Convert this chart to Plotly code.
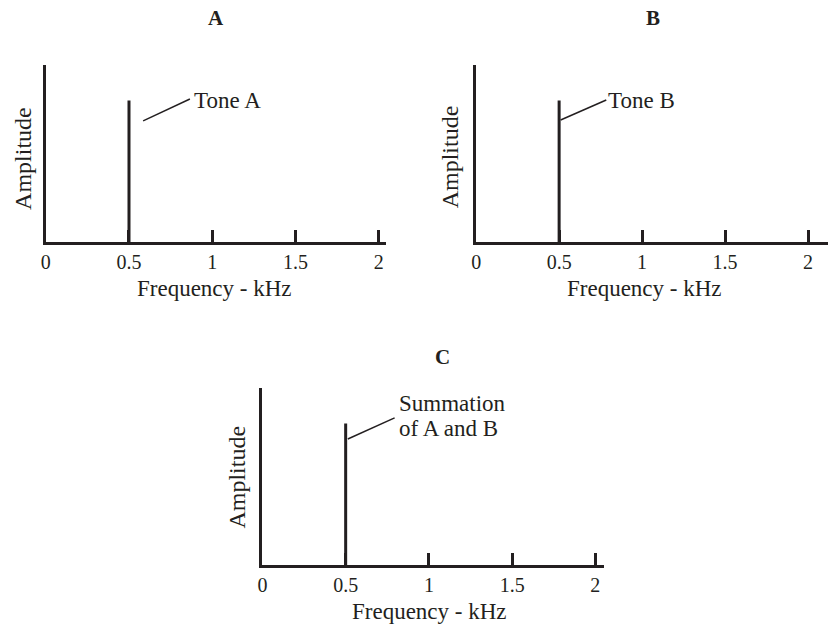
import plotly.graph_objects as go

# ---- data ----
panel_titles = ["A", "B", "C"]
tick_values = [0, 0.5, 1, 1.5, 2]
tick_labels = ["0", "0.5", "1", "1.5", "2"]
x_title = "Frequency - kHz"
y_title = "Amplitude"

tone_a_freq = [0.5]
tone_a_amp = [0.8]
tone_b_freq = [0.5]
tone_b_amp = [0.8]
sum_freq = [0.5]
sum_amp = [0.8]

labels = [["Tone A"], ["Tone B"], ["Summation", "of A and B"]]

INK = "#231f20"
FONT = "Liberation Serif"
W, H = 828, 624

def px(x):
    return x / W

def py(y):
    return 1 - y / H

fig = go.Figure()

series = [(tone_a_freq, tone_a_amp), (tone_b_freq, tone_b_amp), (sum_freq, sum_amp)]
axis_ids = ["", "2", "3"]
for (f, a), k in zip(series, axis_ids):
    xs, ys = [], []
    for fi, ai in zip(f, a):
        xs += [fi, fi, None]
        ys += [0, ai, None]
    fig.add_trace(go.Scatter(x=xs, y=ys, mode="lines",
                             line=dict(color=INK, width=3),
                             xaxis="x" + k, yaxis="y" + k,
                             showlegend=False, hoverinfo="skip"))

# panel geometry (pixels): x0, x_end, y_top, y_bottom, range_end
geom = [
    (41, 383, 65, 242, 2.042),
    (474, 828, 65, 242, 2.12),
    (259, 603, 388, 565, 2.054),
]

def xaxis_cfg(x0, x1, rng_end, anchor):
    return dict(domain=[px(x0), px(x1)], range=[0, rng_end], anchor=anchor,
                showline=True, linewidth=3, linecolor=INK, mirror=False,
                showgrid=False, zeroline=False,
                ticks="inside", ticklen=12, tickwidth=3, tickcolor=INK,
                tickvals=tick_values, ticktext=tick_labels,
                tickfont=dict(family=FONT, size=20, color=INK),
                ticklabelstandoff=0, fixedrange=True)

def yaxis_cfg(yt, yb, anchor):
    return dict(domain=[py(yb), py(yt)], range=[0, 1], anchor=anchor,
                showline=True, linewidth=3, linecolor=INK,
                showgrid=False, zeroline=False, showticklabels=False,
                ticks="", fixedrange=True)

layout = dict(width=W, height=H, margin=dict(l=0, r=0, t=0, b=0),
              plot_bgcolor="white", paper_bgcolor="white",
              font=dict(family=FONT, color=INK, size=21), showlegend=False)
for (x0, x1, yt, yb, re), k in zip(geom, axis_ids):
    layout["xaxis" + k] = xaxis_cfg(x0, x1, re, "y" + k)
    layout["yaxis" + k] = yaxis_cfg(yt, yb, "x" + k)

annotations = []
# panel titles
title_pos = [(212, 18), (652, 18), (440, 357)]
for t, (x, y) in zip(panel_titles, title_pos):
    annotations.append(dict(text="<b>" + t + "</b>", x=px(x), y=py(y), xref="paper", yref="paper",
                            showarrow=False, xanchor="center", yanchor="middle",
                            font=dict(family=FONT, size=21, color=INK)))
# axis titles
xt_pos = [(211, 288), (643, 288), (427, 611)]
for (x, y) in xt_pos:
    annotations.append(dict(text=x_title, x=px(x), y=py(y), xref="paper", yref="paper",
                            showarrow=False, xanchor="center", yanchor="middle",
                            font=dict(family=FONT, size=23, color=INK)))
yt_pos = [(18, 158), (448, 157), (233, 477)]
for (x, y) in yt_pos:
    annotations.append(dict(text=y_title, x=px(x), y=py(y), xref="paper", yref="paper",
                            showarrow=False, xanchor="center", yanchor="middle", textangle=-90,
                            font=dict(family=FONT, size=24, color=INK)))
# callout labels (data coords): x, first-line y, line step (pixels)
label_pos = [(0.907, 0.802), (0.814, 0.802), (0.836, 0.915)]
line_step_px = 25
for lines, (x, y), k in zip(labels, label_pos, axis_ids):
    for i, line in enumerate(lines):
        annotations.append(dict(text=line, x=x, y=y, xref="x" + k, yref="y" + k,
                                showarrow=False, xanchor="left", yanchor="middle", align="left",
                                xshift=-5, yshift=-i * line_step_px,
                                font=dict(family=FONT, size=23, color=INK)))
layout["annotations"] = annotations

# leader lines
leaders = [((0.585, 0.684), (0.866, 0.808)),
           ((0.509, 0.689), (0.784, 0.802)),
           ((0.513, 0.712), (0.794, 0.831))]
shapes = []
for ((x0, y0), (x1, y1)), k in zip(leaders, axis_ids):
    shapes.append(dict(type="line", xref="x" + k, yref="y" + k, x0=x0, y0=y0, x1=x1, y1=y1,
                       line=dict(color=INK, width=1.5)))
layout["shapes"] = shapes

fig.update_layout(**layout)
fig.write_html("out.html", config={"displayModeBar": False},
               post_script="document.body.style.margin='0';document.body.style.overflow='hidden';")
